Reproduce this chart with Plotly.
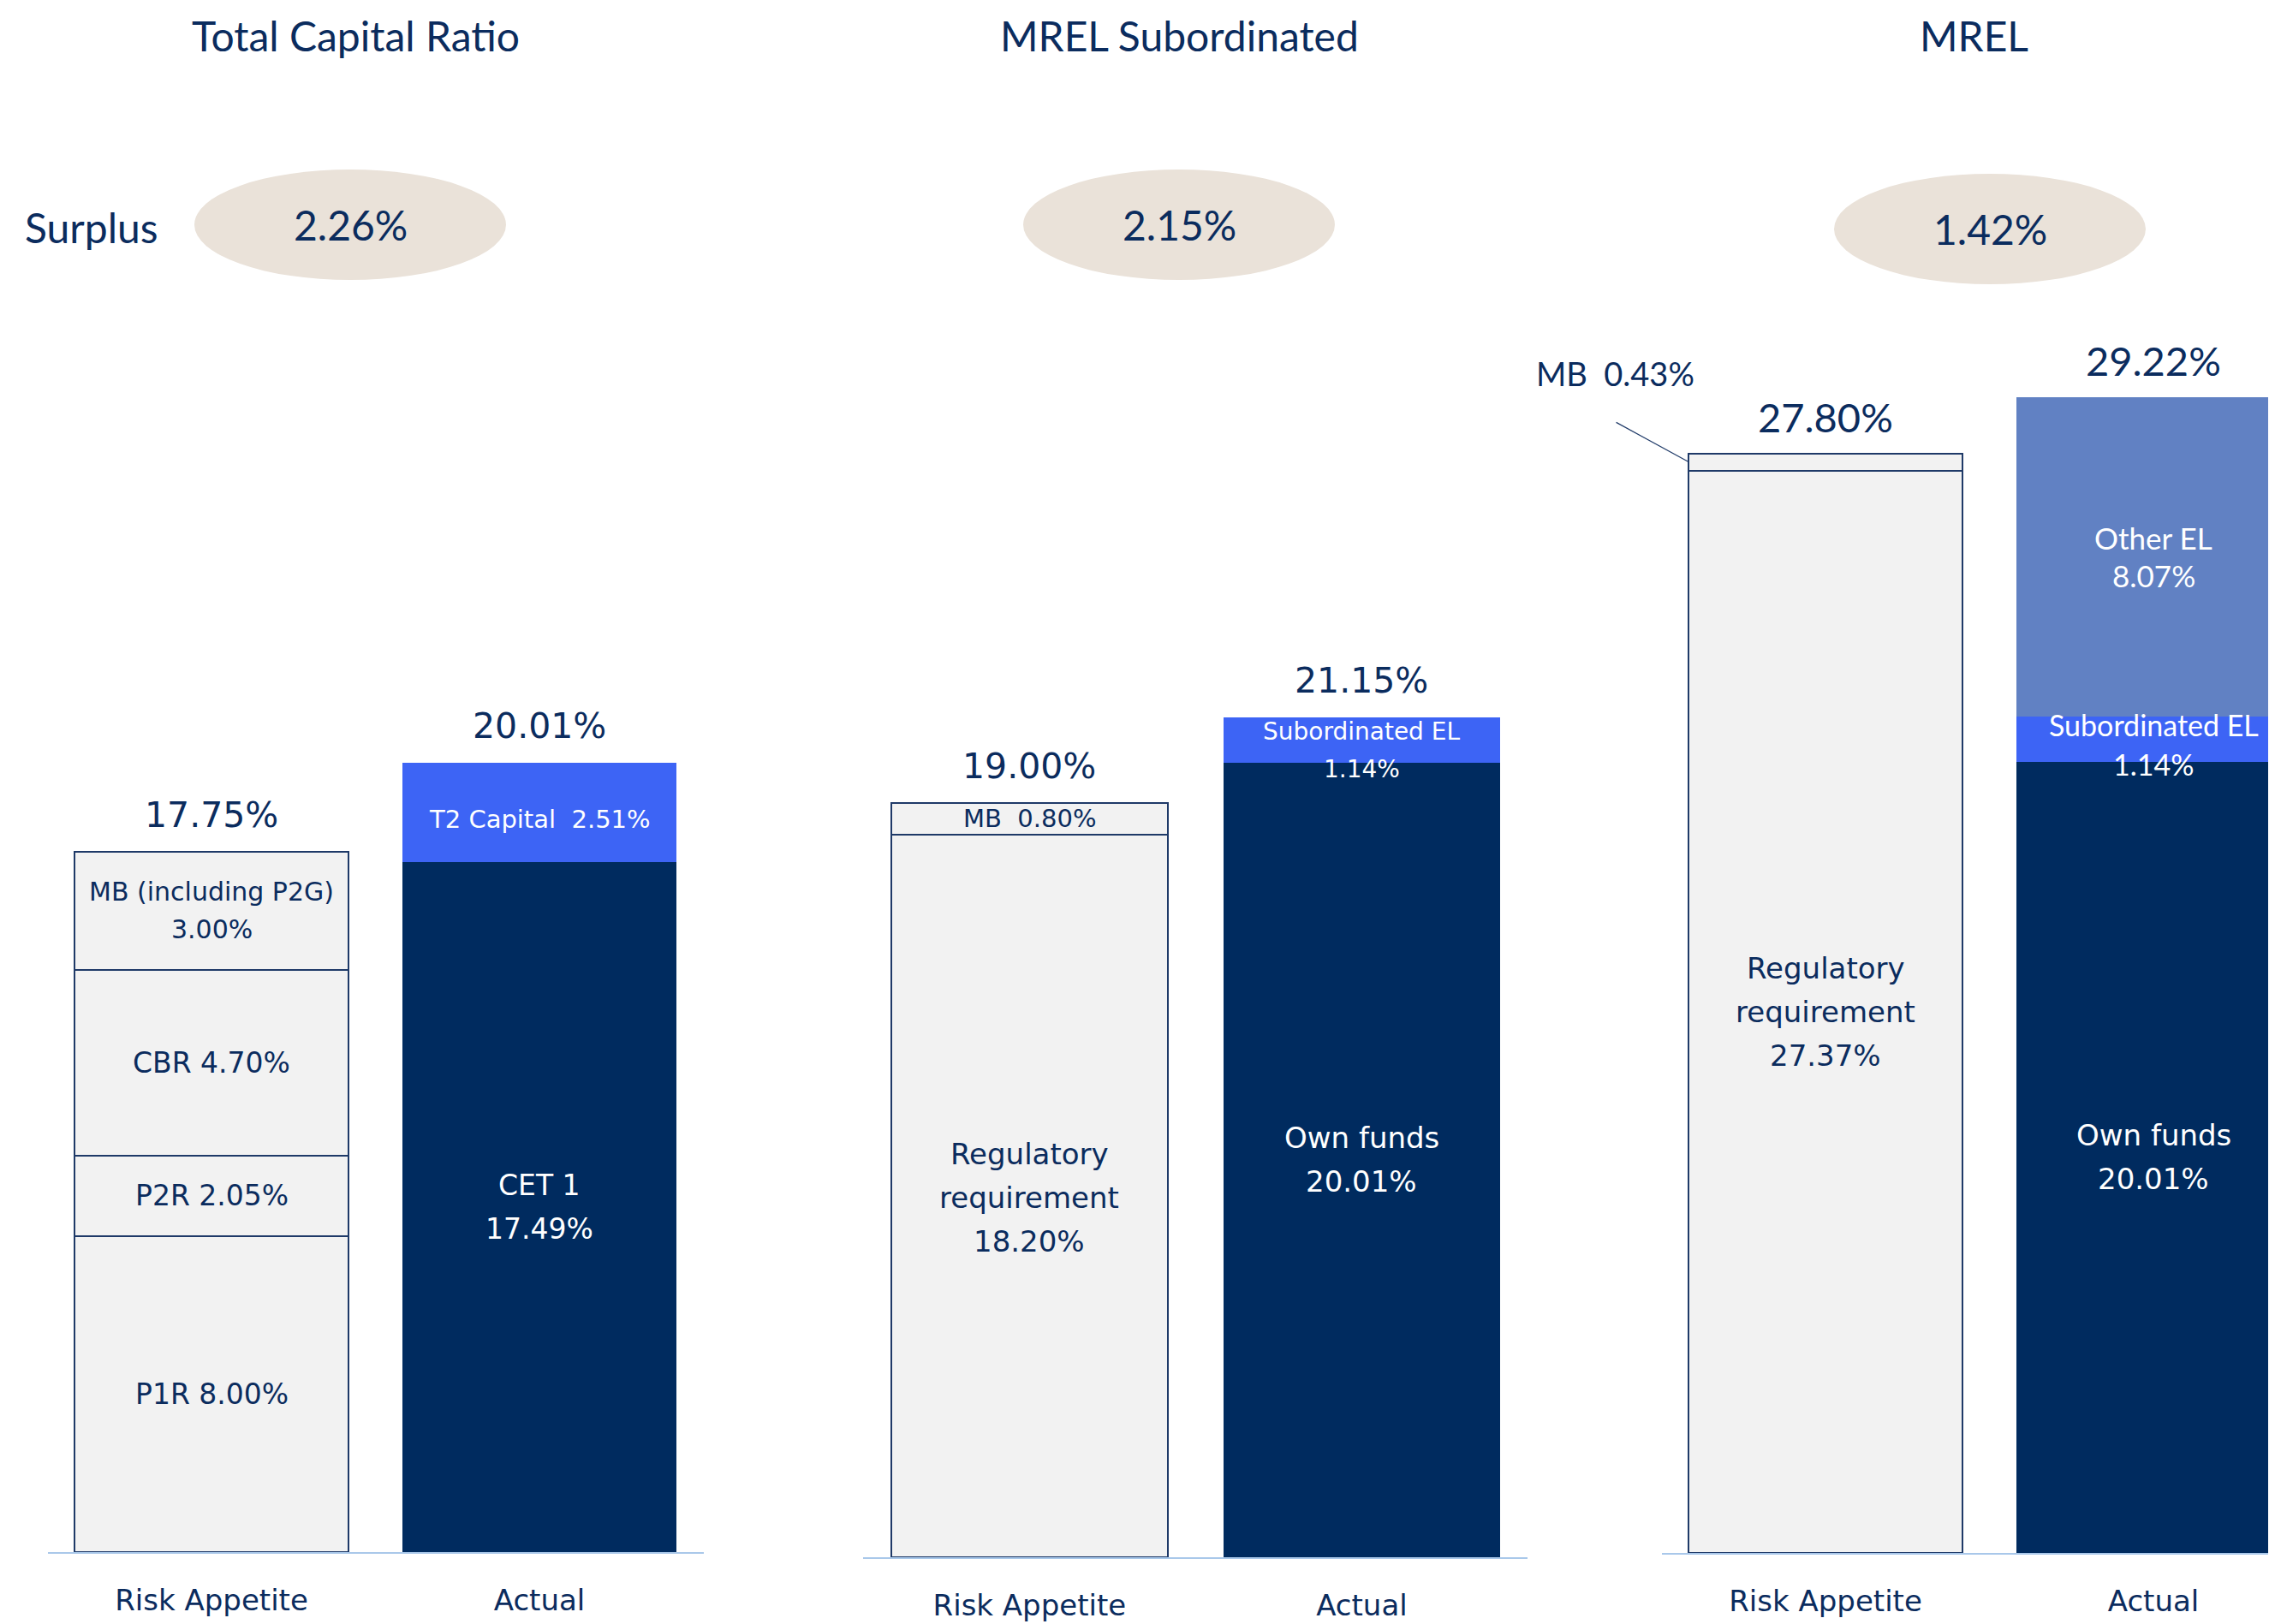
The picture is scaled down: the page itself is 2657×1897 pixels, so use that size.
import plotly.graph_objects as go

W, H = 2657, 1897
OFF = 8  # page body margin
FW, FH = W - OFF, H - OFF

NAVY = "#002B5F"
TEXT_NAVY = "#0B2C5E"
BLUE = "#3D64F5"
MID_BLUE = "#6181C3"
LIGHT = "#F2F2F2"
OUTLINE = "#1F3A68"
AXIS_LINE = "#A9C8EA"
OVAL = "#EAE2D9"
WIDE = "DejaVu Sans"
NARROW = "Lato"

# ---- data ----
panel_titles = ["Total Capital Ratio", "MREL Subordinated", "MREL"]
categories = ["Risk Appetite", "Actual"]
surplus = [2.26, 2.15, 1.42]

# stacks are listed bottom to top
tcr_ra_names = ["P1R", "P2R", "CBR", "MB (including P2G)"]
tcr_ra_values = [8.00, 2.05, 4.70, 3.00]
tcr_act_names = ["CET 1", "T2 Capital"]
tcr_act_values = [17.49, 2.51]

sub_ra_names = ["Regulatory<br>requirement", "MB"]
sub_ra_values = [18.20, 0.80]
sub_act_names = ["Own funds", "Subordinated EL"]
sub_act_values = [20.01, 1.14]

mrel_ra_names = ["Regulatory<br>requirement", "MB"]
mrel_ra_values = [27.37, 0.43]
mrel_act_names = ["Own funds", "Subordinated EL", "Other EL"]
mrel_act_values = [20.01, 1.14, 8.07]

totals = [[17.75, 20.01], [19.00, 21.15], [27.80, 29.22]]


def px(x):
    return (x - OFF) / FW


def py(y):
    return 1 - (y - OFF) / FH


# ---- panel geometry (page pixels) ----
# x0: left end of axis line, step: pixels per category, base: baseline y, scale: px per %
panel_geo = [
    dict(x0=55.5, step=383, base=1813, scale=46.1, width=0.835),
    dict(x0=1008.4, step=388, base=1819, scale=46.38, width=0.833),
    dict(x0=1940.5, step=383, base=1814, scale=46.2, width=0.835),
]

fig = go.Figure()

# label style per segment: (separator, font, size, colour, yshift, line gap)
styles = {
    0: {
        "Risk Appetite": [(" ", WIDE, 33, TEXT_NAVY, 0, 0), (" ", WIDE, 33, TEXT_NAVY, 0, 0),
                          (" ", WIDE, 33, TEXT_NAVY, 0, 0), ("<br>", WIDE, 30, TEXT_NAVY, 0, 44)],
        "Actual": [("<br>", WIDE, 33, "white", 0, 51), ("  ", WIDE, 29, "white", -8, 0)],
    },
    1: {
        "Risk Appetite": [("<br>", WIDE, 34, TEXT_NAVY, -2, 51), ("  ", WIDE, 29, TEXT_NAVY, 0, 0)],
        "Actual": [("<br>", WIDE, 34, "white", 0, 51), ("<br>", WIDE, 28, "white", -12, 44)],
    },
    2: {
        "Risk Appetite": [("<br>", WIDE, 34, TEXT_NAVY, 0, 51), None],
        "Actual": [("<br>", WIDE, 34, "white", 0, 51), ("<br>", NARROW, 34, "white", -6, 46),
                   ("<br>", NARROW, 35, "white", 0, 44)],
    },
}

stacks = [
    {"Risk Appetite": (tcr_ra_names, tcr_ra_values, [LIGHT] * 4),
     "Actual": (tcr_act_names, tcr_act_values, [NAVY, BLUE])},
    {"Risk Appetite": (sub_ra_names, sub_ra_values, [LIGHT] * 2),
     "Actual": (sub_act_names, sub_act_values, [NAVY, BLUE])},
    {"Risk Appetite": (mrel_ra_names, mrel_ra_values, [LIGHT] * 2),
     "Actual": (mrel_act_names, mrel_act_values, [NAVY, BLUE, MID_BLUE])},
]

annotations = []
for p in range(3):
    g = panel_geo[p]
    xa = "x" if p == 0 else f"x{p + 1}"
    ya = "y" if p == 0 else f"y{p + 1}"
    for cat in categories:
        names, values, colors = stacks[p][cat]
        base = 0
        for i, (n, v, c) in enumerate(zip(names, values, colors)):
            ra = cat == "Risk Appetite"
            fig.add_trace(go.Bar(
                x=[cat], y=[v], xaxis=xa, yaxis=ya, width=g["width"],
                marker=dict(color=c, line=dict(color=OUTLINE if ra else c, width=2 if ra else 0)),
                showlegend=False, hoverinfo="skip",
            ))
            st = styles[p][cat][i]
            if st is not None:
                sep, fam, size, col, ysh, gap = st
                lines = f"{n}{sep}{v:.2f}%".split("<br>")
                mid = (len(lines) - 1) / 2
                for k, line in enumerate(lines):
                    annotations.append(dict(
                        x=cat, y=base + v / 2, xref=xa, yref=ya, showarrow=False,
                        xanchor="center", yanchor="middle",
                        text=line, yshift=ysh + (mid - k) * gap,
                        font=dict(family=fam, size=size, color=col),
                    ))
            base += v
        # total above bar
        t = totals[p][categories.index(cat)]
        annotations.append(dict(
            x=cat, y=t, xref=xa, yref=ya, showarrow=False, yshift=43,
            xanchor="center", yanchor="middle", text=f"{t:.2f}%",
            font=dict(family=NARROW if p == 2 else WIDE, size=47 if p == 2 else 41, color=TEXT_NAVY),
        ))

# MB 0.43% with leader line (MREL panel)
mb_x = -panel_geo[2]["width"] / 2
mb_y = mrel_ra_values[0] + mrel_ra_values[1] / 2
annotations.append(dict(
    x=mb_x, y=mb_y, xref="x3", yref="y3", showarrow=True, arrowhead=0, arrowwidth=1.2,
    arrowcolor=OUTLINE, ax=-86, ay=-47, standoff=0, text="",
))
annotations.append(dict(
    x=mb_x, y=mb_y, xref="x3", yref="y3", showarrow=False, xshift=-86, yshift=104,
    xanchor="center", yanchor="middle",
    text=f"{mrel_ra_names[1]}  {mrel_ra_values[1]:.2f}%",
    font=dict(family=NARROW, size=38, color=TEXT_NAVY),
))

# titles, surplus ovals
title_x = [415, 1378, 2305]
oval_centers = [(409, 262.5), (1377, 262.5), (2324, 267.5)]
oval_w, oval_h = 364, 129
shapes = []
for p in range(3):
    annotations.append(dict(
        x=px(title_x[p]), y=py(41), xref="paper", yref="paper", showarrow=False,
        xanchor="center", yanchor="middle",
        text=panel_titles[p], font=dict(family=NARROW, size=48, color=TEXT_NAVY),
    ))
    cx, cy = oval_centers[p]
    shapes.append(dict(
        type="circle", xref="paper", yref="paper",
        x0=px(cx - oval_w / 2), x1=px(cx + oval_w / 2),
        y0=py(cy + oval_h / 2), y1=py(cy - oval_h / 2),
        fillcolor=OVAL, line=dict(width=0), layer="below",
    ))
    annotations.append(dict(
        x=px(cx), y=py(cy), xref="paper", yref="paper", showarrow=False,
        xanchor="center", yanchor="middle",
        text=f"{surplus[p]:.2f}%", font=dict(family=NARROW, size=48, color=TEXT_NAVY),
    ))

annotations.append(dict(
    x=px(27), y=py(266), xref="paper", yref="paper", showarrow=False,
    xanchor="left", yanchor="middle",
    text="Surplus", font=dict(family=NARROW, size=48, color=TEXT_NAVY),
))

layout_axes = {}
for p in range(3):
    g = panel_geo[p]
    sfx = "" if p == 0 else str(p + 1)
    left = px(g["x0"])
    right = min(1.0, px(g["x0"] + 2 * g["step"]))
    xmax = -0.5 + (right * FW + OFF - g["x0"]) / g["step"]
    layout_axes["xaxis" + sfx] = dict(
        domain=[left, right], range=[-0.5, xmax], type="category",
        categoryorder="array", categoryarray=categories,
        anchor="y" + sfx, showline=True, linecolor=AXIS_LINE, linewidth=2,
        showgrid=False, zeroline=False, ticks="outside", ticklen=25,
        tickcolor="rgba(0,0,0,0)", tickfont=dict(family=WIDE, size=34, color=TEXT_NAVY),
        fixedrange=True,
    )
    layout_axes["yaxis" + sfx] = dict(
        domain=[py(g["base"]), 1], range=[0, (g["base"] - OFF) / g["scale"]], visible=False,
        anchor="x" + sfx, fixedrange=True,
    )

fig.update_layout(
    width=FW, height=FH, margin=dict(l=0, r=0, t=0, b=0),
    barmode="stack", plot_bgcolor="white", paper_bgcolor="white",
    annotations=annotations, shapes=shapes, **layout_axes,
)

fig.write_html("out.html")
